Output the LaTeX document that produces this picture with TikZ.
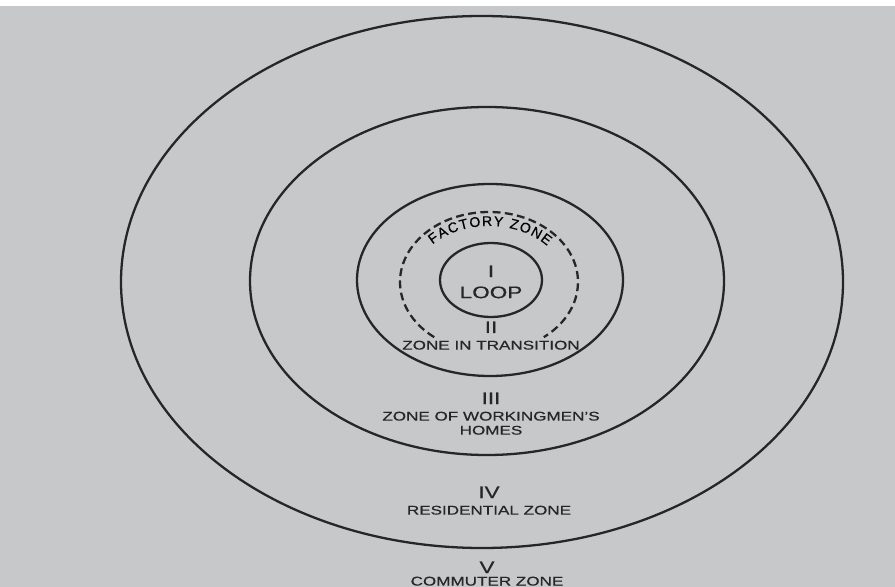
\documentclass[tikz,border=0pt]{standalone}
\usepackage{graphicx}
\usepackage{fontspec}
\setmainfont{Liberation Sans}[FakeBold=0.5]
\usetikzlibrary{positioning,decorations.text}

\definecolor{paper}{RGB}{198,200,202}
\definecolor{ink}{RGB}{38,38,40}
\newcommand{\wide}[1]{\scalebox{1.35}[1]{#1}}

\begin{document}
\begin{tikzpicture}[x=0.02cm,y=-0.02cm,
  ring/.style={draw=ink,line width=1.3pt},
  numeral/.style={inner sep=0pt,text=ink,font=\fontsize{9.5}{9.5}\selectfont},
  zonename/.style={inner sep=0pt,text=ink,font=\fontsize{7.2}{8}\selectfont,align=center}]
\fill[paper] (0,0) rectangle (895,587);
\fill[white] (0,0) rectangle (895,6);
\useasboundingbox (0,0) rectangle (895,587);

% the five rings
\coordinate (c) at (489,282);
\draw[ring] (482,282) ellipse [x radius=361, y radius=266];
\draw[ring] (487,281) ellipse [x radius=237, y radius=174];
\draw[ring] (490,280) ellipse [x radius=133, y radius=96];
\draw[ring] (491,280) ellipse [x radius=51, y radius=37];
\draw[ring,dash pattern=on 4.5pt off 2.5pt] (c) ++(128:89 and 70)
  arc [start angle=128, end angle=412, x radius=89, y radius=70];
\path[decorate,decoration={text along path,text align={fit to path},
  text={|\fontsize{8}{8}\selectfont|FACTORY ZONE}}]
  (c) ++(222:76 and 56) arc [start angle=222, end angle=320, x radius=76, y radius=56];

% labels
\node[numeral,anchor=base] (one) at (491,277) {\wide{I}};
\node[numeral,below=5pt of one] (loop) {\wide{LOOP}};
\node[numeral,anchor=base] (two) at (491,333) {\wide{II}};
\node[zonename,below=4pt of two] (transition) {\wide{ZONE IN TRANSITION}};
\node[numeral,anchor=base] (three) at (491,404) {\wide{III}};
\node[zonename,below=4pt of three] (workmen) {\wide{ZONE OF WORKINGMEN'S}\\ \wide{HOMES}};
\node[numeral,anchor=base] (four) at (489,498) {\wide{IV}};
\node[zonename,below=4pt of four] (residential) {\wide{RESIDENTIAL ZONE}};
\node[numeral,anchor=base] (five) at (487,573) {\wide{V}};
\node[zonename,below=1.7pt of five] (commuter) {\wide{COMMUTER ZONE}};
\end{tikzpicture}
\end{document}
